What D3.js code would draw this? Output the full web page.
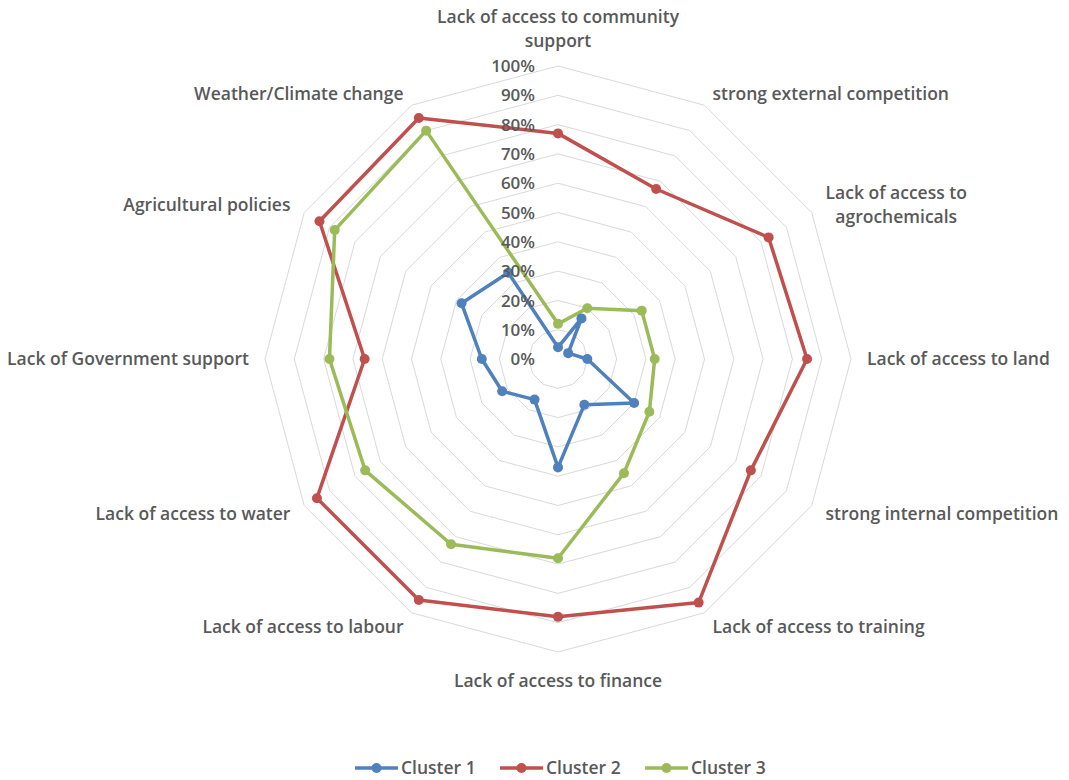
<!DOCTYPE html>
<html>
<head>
<meta charset="utf-8">
<script src="https://cdn.jsdelivr.net/npm/d3@7"></script>
<style>
  html, body { margin: 0; padding: 0; background: #fff; }
  svg { display: block; }
  text { font-family: "Open Sans", Lato, sans-serif; fill: #595959; }
</style>
</head>
<body>
<svg id="chart" width="1069" height="780"></svg>
<script>
// Barriers, listed clockwise from the top of the radar
const categories = [
  "Lack of access to community support",
  "strong external competition",
  "Lack of access to agrochemicals",
  "Lack of access to land",
  "strong internal competition",
  "Lack of access to training",
  "Lack of access to finance",
  "Lack of access to labour",
  "Lack of access to water",
  "Lack of Government support",
  "Agricultural policies",
  "Weather/Climate change"
];
// Label line breaks for the long category names
const labelLines = [
  ["Lack of access to community", "support"],
  ["strong external competition"],
  ["Lack of access to", "agrochemicals"],
  ["Lack of access to land"],
  ["strong internal competition"],
  ["Lack of access to training"],
  ["Lack of access to finance"],
  ["Lack of access to labour"],
  ["Lack of access to water"],
  ["Lack of Government support"],
  ["Agricultural policies"],
  ["Weather/Climate change"]
];

const seriesNames = ["Cluster 1", "Cluster 2", "Cluster 3"];
const cluster1 = [4, 16, 4, 10, 30, 18, 37, 16, 22, 26, 38, 34];
const cluster2 = [77, 67, 83, 85, 76, 96, 88, 95, 95, 66, 94, 95];
const cluster3 = [12, 20, 33, 33, 36, 45, 68, 73, 76, 78, 88, 90];
const tickValues = [0, 10, 20, 30, 40, 50, 60, 70, 80, 90, 100];
const colors = ["#4F81BD", "#C0504D", "#9BBB59"];

const series = [cluster1, cluster2, cluster3];

const svg = d3.select("#chart");
const cx = 558, cy = 359, R = 293;
const fontSize = 17.5, fontWeight = 600;

const r = d3.scaleLinear().domain([0, 100]).range([0, R]);
const angle = d3.scalePoint().domain(categories).range([0, 2 * Math.PI * (categories.length - 1) / categories.length]);

const g = svg.append("g").attr("transform", `translate(${cx},${cy})`);

// Concentric grid polygons
const gridLine = d3.lineRadial()
  .angle(d => angle(d))
  .curve(d3.curveLinearClosed);

tickValues.filter(v => v > 0).forEach(v => {
  g.append("path")
    .attr("d", gridLine.radius(r(v))(categories))
    .attr("fill", "none")
    .attr("stroke", "#d9d9d9")
    .attr("stroke-width", 1);
});

// Series lines and markers
const seriesLine = d3.lineRadial()
  .angle((d, i) => angle(categories[i]))
  .radius(d => r(d))
  .curve(d3.curveLinearClosed);

series.forEach((vals, si) => {
  g.append("path")
    .attr("d", seriesLine(vals))
    .attr("fill", "none")
    .attr("stroke", colors[si])
    .attr("stroke-width", 3.5)
    .attr("stroke-linejoin", "round");
});
series.forEach((vals, si) => {
  g.selectAll(null)
    .data(vals)
    .join("circle")
    .attr("cx", (d, i) => r(d) * Math.sin(angle(categories[i])))
    .attr("cy", (d, i) => -r(d) * Math.cos(angle(categories[i])))
    .attr("r", 5)
    .attr("fill", colors[si]);
});

// Radial value axis labels
g.selectAll(null)
  .data(tickValues)
  .join("text")
  .attr("x", -23)
  .attr("y", d => -r(d))
  .attr("dy", "0.36em")
  .attr("text-anchor", "end")
  .attr("font-size", 17)
  .attr("font-weight", fontWeight)
  .text(d => d + "%");

// Category labels around the outside
const pad = 16, lineH = 24;
categories.forEach((c, i) => {
  const a = angle(c);
  const s = Math.sin(a), co = Math.cos(a);
  const x = (R + pad) * s;
  const y = -(R + pad) * co;
  const lines = labelLines[i];
  let anchor = "middle";
  if (s > 0.01) anchor = "start";
  if (s < -0.01) anchor = "end";
  let y0;
  if (Math.abs(s) < 0.01 && co > 0) {
    // top label sits above the anchor point
    y0 = y - (lines.length - 1) * lineH - 3;
  } else if (Math.abs(s) < 0.01 && co < 0) {
    y0 = y + 19;
  } else if (co > 0.8) {
    y0 = y - (lines.length - 1) * lineH / 2 + 9;
  } else {
    y0 = y - (lines.length - 1) * lineH / 2 + 6;
  }
  const t = g.append("text")
    .attr("text-anchor", anchor)
    .attr("font-size", fontSize)
    .attr("font-weight", fontWeight);
  // multi-line labels are centred within their block
  if (lines.length > 1 && anchor === "start") {
    const tmp = g.append("text").attr("font-size", fontSize).attr("font-weight", fontWeight).text(lines[0]);
    const w = tmp.node().getComputedTextLength();
    tmp.remove();
    t.attr("text-anchor", "middle");
    lines.forEach((ln, k) => t.append("tspan").attr("x", x + w / 2).attr("y", y0 + k * lineH).text(ln));
  } else {
    lines.forEach((ln, k) => t.append("tspan").attr("x", x).attr("y", y0 + k * lineH).text(ln));
  }
});

// Legend
const legendX = [355, 500, 645];
const legendY = 768;
const lg = svg.append("g");
seriesNames.forEach((name, i) => {
  const x0 = legendX[i];
  lg.append("line")
    .attr("x1", x0).attr("x2", x0 + 43)
    .attr("y1", legendY).attr("y2", legendY)
    .attr("stroke", colors[i]).attr("stroke-width", 3.5);
  lg.append("circle")
    .attr("cx", x0 + 21.5).attr("cy", legendY).attr("r", 5)
    .attr("fill", colors[i]);
  lg.append("text")
    .attr("x", x0 + 46).attr("y", legendY).attr("dy", "0.36em")
    .attr("font-size", fontSize).attr("font-weight", fontWeight)
    .text(name);
});
</script>
</body>
</html>
